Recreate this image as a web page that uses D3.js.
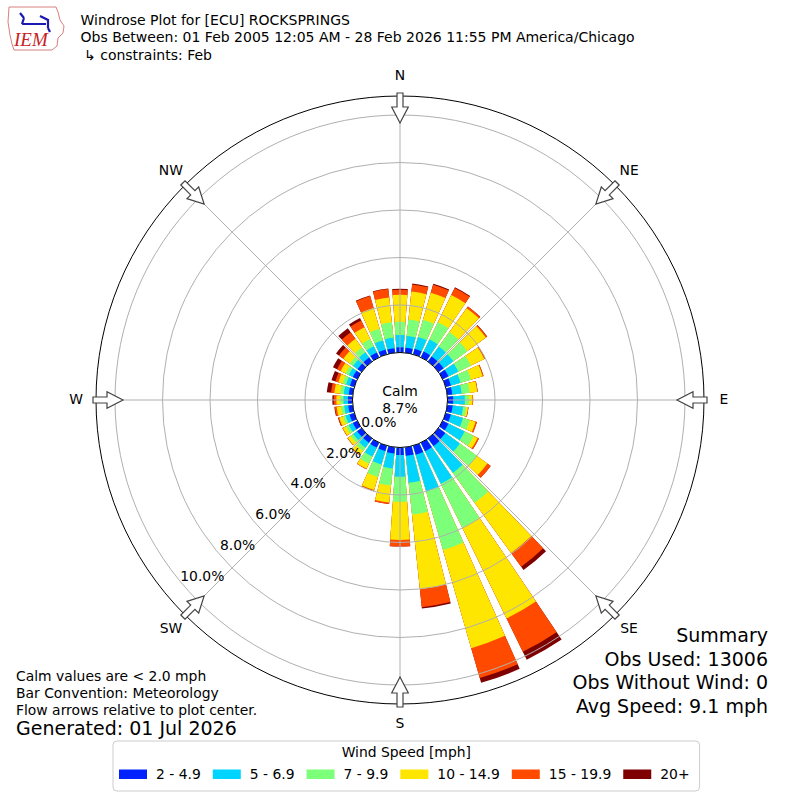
<!DOCTYPE html>
<html>
<head>
<meta charset="utf-8">
<script src="https://cdn.jsdelivr.net/npm/d3@7/dist/d3.min.js"></script>
<style>
body { margin: 0; background: #fff; }
text { font-family: "DejaVu Sans", sans-serif; fill: #000; }
</style>
</head>
<body>
<svg id="plate" width="800" height="800"></svg>
<script>
// direction bins (deg, meteorological, where the wind blows from)
var directions = [0, 10, 20, 30, 40, 50, 60, 70, 80, 90, 100, 110, 120, 130, 140, 150, 160, 170,
    180, 190, 200, 210, 220, 230, 240, 250, 260, 270, 280, 290, 300, 310, 320, 330, 340, 350];
var speedBins = ['2 - 4.9', '5 - 6.9', '7 - 9.9', '10 - 14.9', '15 - 19.9', '20+'];
var speedColors = ['#0022ff', '#00d4ff', '#7cff79', '#ffe600', '#ff4a00', '#7f0000'];

// percent of observations, one array per speed bin, in directions order
var pct2to5 = [0.22, 0.21, 0.24, 0.27, 0.27, 0.27, 0.27, 0.23, 0.21, 0.24, 0.23, 0.23, 0.27, 0.36, 0.40, 0.40, 0.40, 0.36,
    0.32, 0.27, 0.23, 0.23, 0.23, 0.23, 0.21, 0.21, 0.19, 0.19, 0.17, 0.19, 0.21, 0.21, 0.21, 0.23, 0.21, 0.19];
var pct5to7 = [0.52, 0.50, 0.52, 0.56, 0.51, 0.51, 0.46, 0.42, 0.40, 0.49, 0.44, 0.53, 0.76, 0.76, 1.39, 1.52, 1.60, 1.14,
    0.91, 0.63, 0.59, 0.42, 0.25, 0.21, 0.19, 0.17, 0.17, 0.19, 0.21, 0.17, 0.19, 0.23, 0.27, 0.29, 0.40, 0.45];
var pct7to10 = [0.55, 0.70, 0.75, 0.81, 0.76, 0.72, 0.59, 0.46, 0.34, 0.18, 0.13, 0.30, 0.42, 0.88, 1.56, 2.06, 2.57, 1.35,
    1.05, 0.72, 0.55, 0.34, 0.17, 0.13, 0.13, 0.11, 0.13, 0.13, 0.15, 0.15, 0.15, 0.17, 0.25, 0.34, 0.51, 0.65];
var pct10to15 = [1.14, 1.18, 1.19, 1.28, 1.24, 0.97, 0.63, 0.51, 0.32, 0.14, 0.08, 0.25, 0.19, 0.55, 2.61, 4.25, 4.30, 3.16,
    1.61, 0.72, 0.57, 0.23, 0.21, 0.15, 0.15, 0.17, 0.19, 0.17, 0.25, 0.19, 0.23, 0.34, 0.46, 0.55, 0.91, 1.05];
var pct15to20 = [0.21, 0.30, 0.35, 0.33, 0.08, 0.06, 0.04, 0.04, 0.02, 0.03, 0.02, 0.06, 0.06, 0.17, 0.72, 1.56, 1.31, 0.76,
    0.27, 0.06, 0.03, 0.02, 0.02, 0.02, 0.02, 0.04, 0.08, 0.11, 0.14, 0.13, 0.17, 0.23, 0.34, 0.32, 0.52, 0.36];
var pct20up = [0.04, 0.04, 0.04, 0.03, 0.01, 0.01, 0, 0, 0, 0, 0, 0, 0, 0, 0.17, 0.38, 0.21, 0.06,
    0.01, 0, 0, 0, 0, 0, 0, 0.02, 0.02, 0.06, 0.18, 0.17, 0.19, 0.15, 0.21, 0.11, 0.03, 0.02];

var rTicks = [0, 2, 4, 6, 8, 10];
var compass = [['N', 0], ['NE', 45], ['E', 90], ['SE', 135], ['S', 180], ['SW', 225], ['W', 270], ['NW', 315]];
var calmPct = 8.7;

var titleLines = ['Windrose Plot for [ECU] ROCKSPRINGS',
    'Obs Between: 01 Feb 2005 12:05 AM - 28 Feb 2026 11:55 PM America/Chicago',
    '\u21b3 constraints: Feb'];
var noteLines = ['Calm values are < 2.0 mph', 'Bar Convention: Meteorology', 'Flow arrows relative to plot center.'];
var generated = 'Generated: 01 Jul 2026';
var summaryLines = ['Summary', 'Obs Used: 13006', 'Obs Without Wind: 0', 'Avg Speed: 9.1 mph'];

var svg = d3.select('#plate');
var cx = 400, cy = 400;
var toRad = Math.PI / 180;

// radial scale: 0% sits on the calm circle
var r = d3.scaleLinear().domain([0, 10]).range([47.5, 285]);
var rOuter = r(10.8);

var plot = svg.append('g').attr('transform', 'translate(' + cx + ',' + cy + ')');

// stack the speed bins per direction
var series = [pct2to5, pct5to7, pct7to10, pct10to15, pct15to20, pct20up];
var rows = directions.map((d, i) => {
    var acc = 0;
    var cum = series.map((s) => (acc += s[i]));
    return {dir: d, cum: cum};
});

var arc = d3.arc();

// bars: outermost layer first so inner layers sit on top, no seams
for (var k = series.length - 1; k >= 0; k--) {
    plot.append('g')
        .selectAll('path')
        .data(rows)
        .join('path')
        .attr('fill', speedColors[k])
        .attr('d', (d) => arc({
            innerRadius: r(0),
            outerRadius: r(d.cum[k]),
            startAngle: (d.dir - 4) * toRad,
            endAngle: (d.dir + 4) * toRad
        }));
}

// grid above bars (matplotlib style)
var grid = plot.append('g').attr('fill', 'none').attr('stroke', '#b0b0b0').attr('stroke-width', 1);
grid.selectAll('circle')
    .data(rTicks.slice(1))
    .join('circle')
    .attr('r', (d) => r(d));
grid.selectAll('line')
    .data(compass)
    .join('line')
    .attr('x1', (d) => r(0) * Math.sin(d[1] * toRad))
    .attr('y1', (d) => -r(0) * Math.cos(d[1] * toRad))
    .attr('x2', (d) => rOuter * Math.sin(d[1] * toRad))
    .attr('y2', (d) => -rOuter * Math.cos(d[1] * toRad));

// calm circle + outer frame
plot.append('circle').attr('r', r(0)).attr('fill', '#fff').attr('stroke', '#000').attr('stroke-width', 1);
plot.append('circle').attr('r', rOuter).attr('fill', 'none').attr('stroke', '#000').attr('stroke-width', 1);

// flow arrows on the frame pointing at the center
var arrowPts = [[-3, -307], [3, -307], [3, -293], [8.3, -293], [0, -277], [-8.3, -293], [-3, -293]];
plot.append('g')
    .selectAll('path')
    .data(compass)
    .join('path')
    .attr('d', 'M' + arrowPts.join('L') + 'Z')
    .attr('transform', (d) => 'rotate(' + d[1] + ')')
    .attr('fill', '#fff')
    .attr('stroke', '#444')
    .attr('stroke-width', 1.2);

// compass labels
plot.append('g')
    .selectAll('text')
    .data(compass)
    .join('text')
    .attr('x', (d) => 324 * Math.sin(d[1] * toRad))
    .attr('y', (d) => -324 * Math.cos(d[1] * toRad) - 1)
    .attr('dy', '0.36em')
    .attr('text-anchor', 'middle')
    .style('font-size', '13.9px')
    .text((d) => d[0]);

// radial tick labels, set just inside each ring along ~228 deg
var labelAng = 228 * toRad;
plot.append('g')
    .selectAll('text')
    .data(rTicks)
    .join('text')
    .attr('x', (d) => (r(d) - 17) * Math.sin(labelAng) + 1.5)
    .attr('y', (d) => -(r(d) - 17) * Math.cos(labelAng) + 1.5 - 0.5 * d)
    .attr('dy', '0.36em')
    .attr('text-anchor', 'middle')
    .style('font-size', '13.9px')
    .text((d) => d.toFixed(1) + '%');

// calm text
plot.append('text').attr('y', -4.5).attr('text-anchor', 'middle').style('font-size', '13.9px').text('Calm');
plot.append('text').attr('y', 13).attr('text-anchor', 'middle').style('font-size', '13.9px').text(calmPct.toFixed(1) + '%');

// titles
svg.append('g')
    .selectAll('text')
    .data(titleLines)
    .join('text')
    .attr('x', (d, i) => (i === 2 ? 84 : 80.5))
    .attr('y', (d, i) => 25 + i * 17.3)
    .style('font-size', '14px')
    .text((d) => d);

// IEM logo (rough)
var logo = svg.append('g');
logo.append('path')
    .attr('d', 'M9,7 L56,7 L58,12 L60,20 L64,26 L63,33 L58,38 L57,46 L52,50 L14,50 L12,44 L10,35 L8,22 Z')
    .attr('fill', 'none').attr('stroke', '#d98080').attr('stroke-width', 1);
logo.append('path')
    .attr('d', 'M20,13 L24,18 M22,24 L46,24 M40,16 L48,20 L48,28 M24,18 L22,24 M48,28 L50,32')
    .attr('fill', 'none').attr('stroke', '#1a1ab0').attr('stroke-width', 2.2);
logo.append('text').attr('x', 14).attr('y', 46)
    .style('font-family', '"Liberation Serif", serif').style('font-style', 'italic')
    .style('font-size', '19px').style('fill', '#c81e1e').text('IEM');

// bottom-left notes
svg.append('g')
    .selectAll('text')
    .data(noteLines)
    .join('text')
    .attr('x', 16)
    .attr('y', (d, i) => 681 + i * 17)
    .style('font-size', '13.9px')
    .text((d) => d);
svg.append('text').attr('x', 16).attr('y', 734.5).style('font-size', '19px').text(generated);

// summary block
svg.append('g')
    .selectAll('text')
    .data(summaryLines)
    .join('text')
    .attr('x', 768)
    .attr('y', (d, i) => 642 + i * 23.5)
    .attr('text-anchor', 'end')
    .style('font-size', '19px')
    .text((d) => d);

// legend
var legend = svg.append('g');
var box = legend.append('rect')
    .attr('x', 113).attr('y', 741).attr('height', 50).attr('rx', 4)
    .attr('fill', '#fff').attr('stroke', '#cccccc').attr('stroke-width', 1);
var cursor = 119;
speedBins.forEach((label, i) => {
    legend.append('rect')
        .attr('x', cursor).attr('y', 769.5).attr('width', 28).attr('height', 9.5)
        .attr('fill', speedColors[i]);
    var t = legend.append('text')
        .attr('x', cursor + 37).attr('y', 779)
        .style('font-size', '13.9px')
        .text(label);
    cursor += 37 + t.node().getComputedTextLength() + 12;
});
var boxW = cursor - 12 + 10 - 113;
box.attr('width', boxW);
legend.append('text')
    .attr('x', 113 + boxW / 2).attr('y', 757)
    .attr('text-anchor', 'middle')
    .style('font-size', '13.9px')
    .text('Wind Speed [mph]');
</script>
</body>
</html>
